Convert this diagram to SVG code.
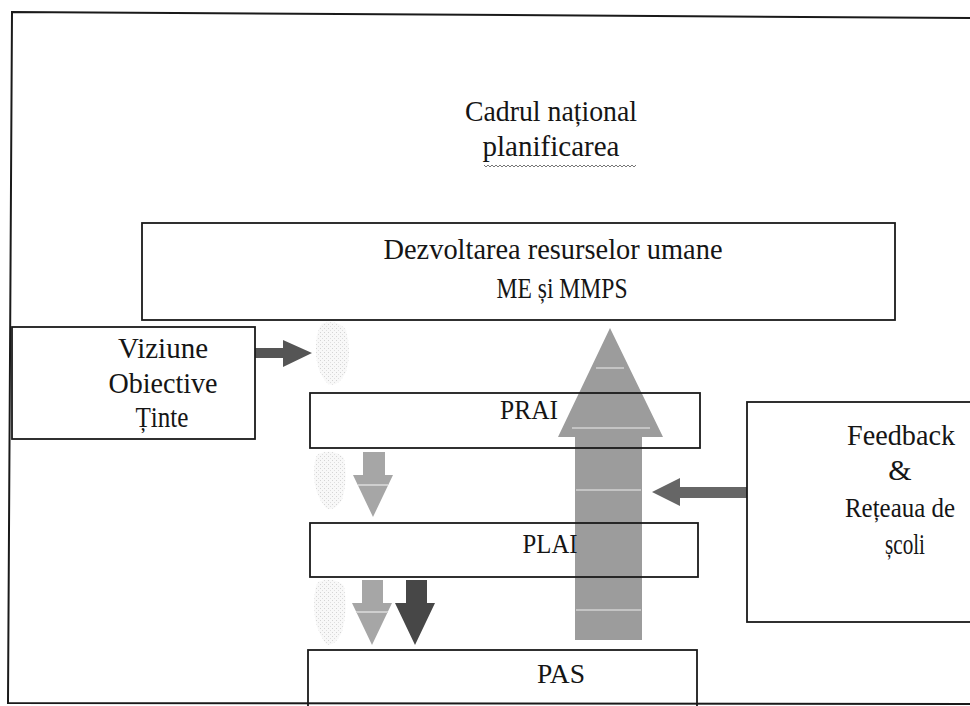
<svg xmlns="http://www.w3.org/2000/svg" width="970" height="706" viewBox="0 0 970 706">
<defs>
<style>
text{font-family:"Liberation Serif","Times New Roman",serif;font-size:30px;fill:#151515;text-anchor:middle}
.s{font-size:27px}
.box{fill:none;stroke:#1a1a1a;stroke-width:1.8}
.frame{fill:none;stroke:#1a1a1a;stroke-width:2}
</style>
<pattern id="speck" width="4" height="4" patternUnits="userSpaceOnUse">
<rect width="4" height="4" fill="#f5f5f5"/>
<rect x="0" y="0" width="1" height="1" fill="#c2c2c2"/>
<rect x="2" y="2" width="1" height="1" fill="#d0d0d0"/>
</pattern>
</defs>

<!-- outer frame -->
<path class="frame" d="M970,18 L12,12 L8,703 L970,704"/>

<g id="connectors">
  <!-- faint blobs -->
  <path d="M322,324 Q336,318 346,330 Q352,352 346,372 Q338,388 328,384 Q316,372 316,350 Q316,330 322,324 Z" fill="url(#speck)" opacity="0.7"/>
  <path d="M318,454 Q334,448 344,458 Q348,480 342,500 Q334,512 326,508 Q314,494 314,474 Q314,458 318,454 Z" fill="url(#speck)" opacity="0.7"/>
  <path d="M318,582 Q334,576 344,586 Q348,610 342,632 Q334,648 326,644 Q314,628 314,606 Q314,588 318,582 Z" fill="url(#speck)" opacity="0.7"/>

  <!-- Viziune -> right arrow -->
  <polygon points="255,348 283,348 283,340 312,353 283,367 283,358 255,358" fill="#555"/>

  <!-- big up arrow -->
  <polygon points="575,640 575,437 558,437 610,328 663,437 642,437 642,640" fill="#9c9c9c"/>
  <g stroke="#c4c4c4" stroke-width="2">
    <line x1="596" y1="368" x2="624" y2="368"/>
    <line x1="572" y1="428" x2="650" y2="428"/>
    <line x1="576" y1="490" x2="641" y2="490"/>
    <line x1="576" y1="610" x2="641" y2="610"/>
  </g>

  <!-- Feedback -> left arrow -->
  <polygon points="747,487 680,487 680,478 652,492 680,506 680,498 747,498" fill="#666"/>

  <!-- PRAI -> PLAI light arrow -->
  <polygon points="363,452 385,452 385,475 393,475 373,517 353,475 363,475" fill="#a6a6a6"/>
  <line x1="358" y1="485" x2="388" y2="485" stroke="#cfcfcf" stroke-width="2"/>

  <!-- PLAI -> PAS light arrow -->
  <polygon points="362,580 383,580 383,603 392,603 372,645 352,603 362,603" fill="#a6a6a6"/>
  <line x1="356" y1="612" x2="388" y2="612" stroke="#cfcfcf" stroke-width="2"/>

  <!-- PLAI -> PAS dark arrow -->
  <polygon points="406,580 427,580 427,603 435,603 415,645 395,603 406,603" fill="#474747"/>
</g>

<g id="title">
  <text x="551" y="121" textLength="172" lengthAdjust="spacingAndGlyphs">Cadrul național</text>
  <text x="551" y="156" textLength="137" lengthAdjust="spacingAndGlyphs">planificarea</text>
  <path d="M484,165 l2,2 l2,-2 l2,2 l2,-2 l2,2 l2,-2 l2,2 l2,-2 l2,2 l2,-2 l2,2 l2,-2 l2,2 l2,-2 l2,2 l2,-2 l2,2 l2,-2 l2,2 l2,-2 l2,2 l2,-2 l2,2 l2,-2 l2,2 l2,-2 l2,2 l2,-2 l2,2 l2,-2 l2,2 l2,-2 l2,2 l2,-2 l2,2 l2,-2 l2,2 l2,-2 l2,2 l2,-2 l2,2 l2,-2 l2,2 l2,-2 l2,2 l2,-2 l2,2 l2,-2 l2,2 l2,-2 l2,2 l2,-2 l2,2 l2,-2 l2,2 l2,-2 l2,2 l2,-2 l2,2 l2,-2 l2,2 l2,-2 l2,2 l2,-2 l2,2 l2,-2 l2,2 l2,-2 l2,2 l2,-2 l2,2 l2,-2 l2,2 l2,-2 l2,2 l2,-2" fill="none" stroke="#777" stroke-width="1"/>
</g>

<g id="node-dezvoltarea">
  <rect class="box" x="142" y="223" width="753" height="97"/>
  <text x="553" y="259" textLength="339" lengthAdjust="spacingAndGlyphs">Dezvoltarea resurselor umane</text>
  <text x="562" y="298" textLength="131" lengthAdjust="spacingAndGlyphs">ME și MMPS</text>
</g>

<g id="node-viziune">
  <rect class="box" x="12" y="327" width="243" height="112"/>
  <text x="163" y="358" textLength="90" lengthAdjust="spacingAndGlyphs">Viziune</text>
  <text x="163" y="393" textLength="109" lengthAdjust="spacingAndGlyphs">Obiective</text>
  <text x="162" y="427" textLength="53" lengthAdjust="spacingAndGlyphs">Ținte</text>
</g>

<g id="node-prai">
  <rect class="box" x="310" y="393" width="390" height="55"/>
  <text class="s" x="529" y="419" textLength="58" lengthAdjust="spacingAndGlyphs">PRAI</text>
</g>

<g id="node-plai">
  <rect class="box" x="310" y="523" width="388" height="54"/>
  <text class="s" x="550" y="553" textLength="55" lengthAdjust="spacingAndGlyphs">PLAI</text>
</g>

<g id="node-pas">
  <rect class="box" x="308" y="650" width="389" height="70"/>
  <text class="s" x="561" y="683" textLength="48" lengthAdjust="spacingAndGlyphs">PAS</text>
</g>

<g id="node-feedback">
  <rect class="box" x="747" y="402" width="240" height="220"/>
  <text x="901" y="445" textLength="108" lengthAdjust="spacingAndGlyphs">Feedback</text>
  <text x="900" y="480">&amp;</text>
  <text x="900" y="517" style="font-size:27px" textLength="110" lengthAdjust="spacingAndGlyphs">Rețeaua de</text>
  <text x="905" y="554" textLength="40" lengthAdjust="spacingAndGlyphs">școli</text>
</g>
</svg>
